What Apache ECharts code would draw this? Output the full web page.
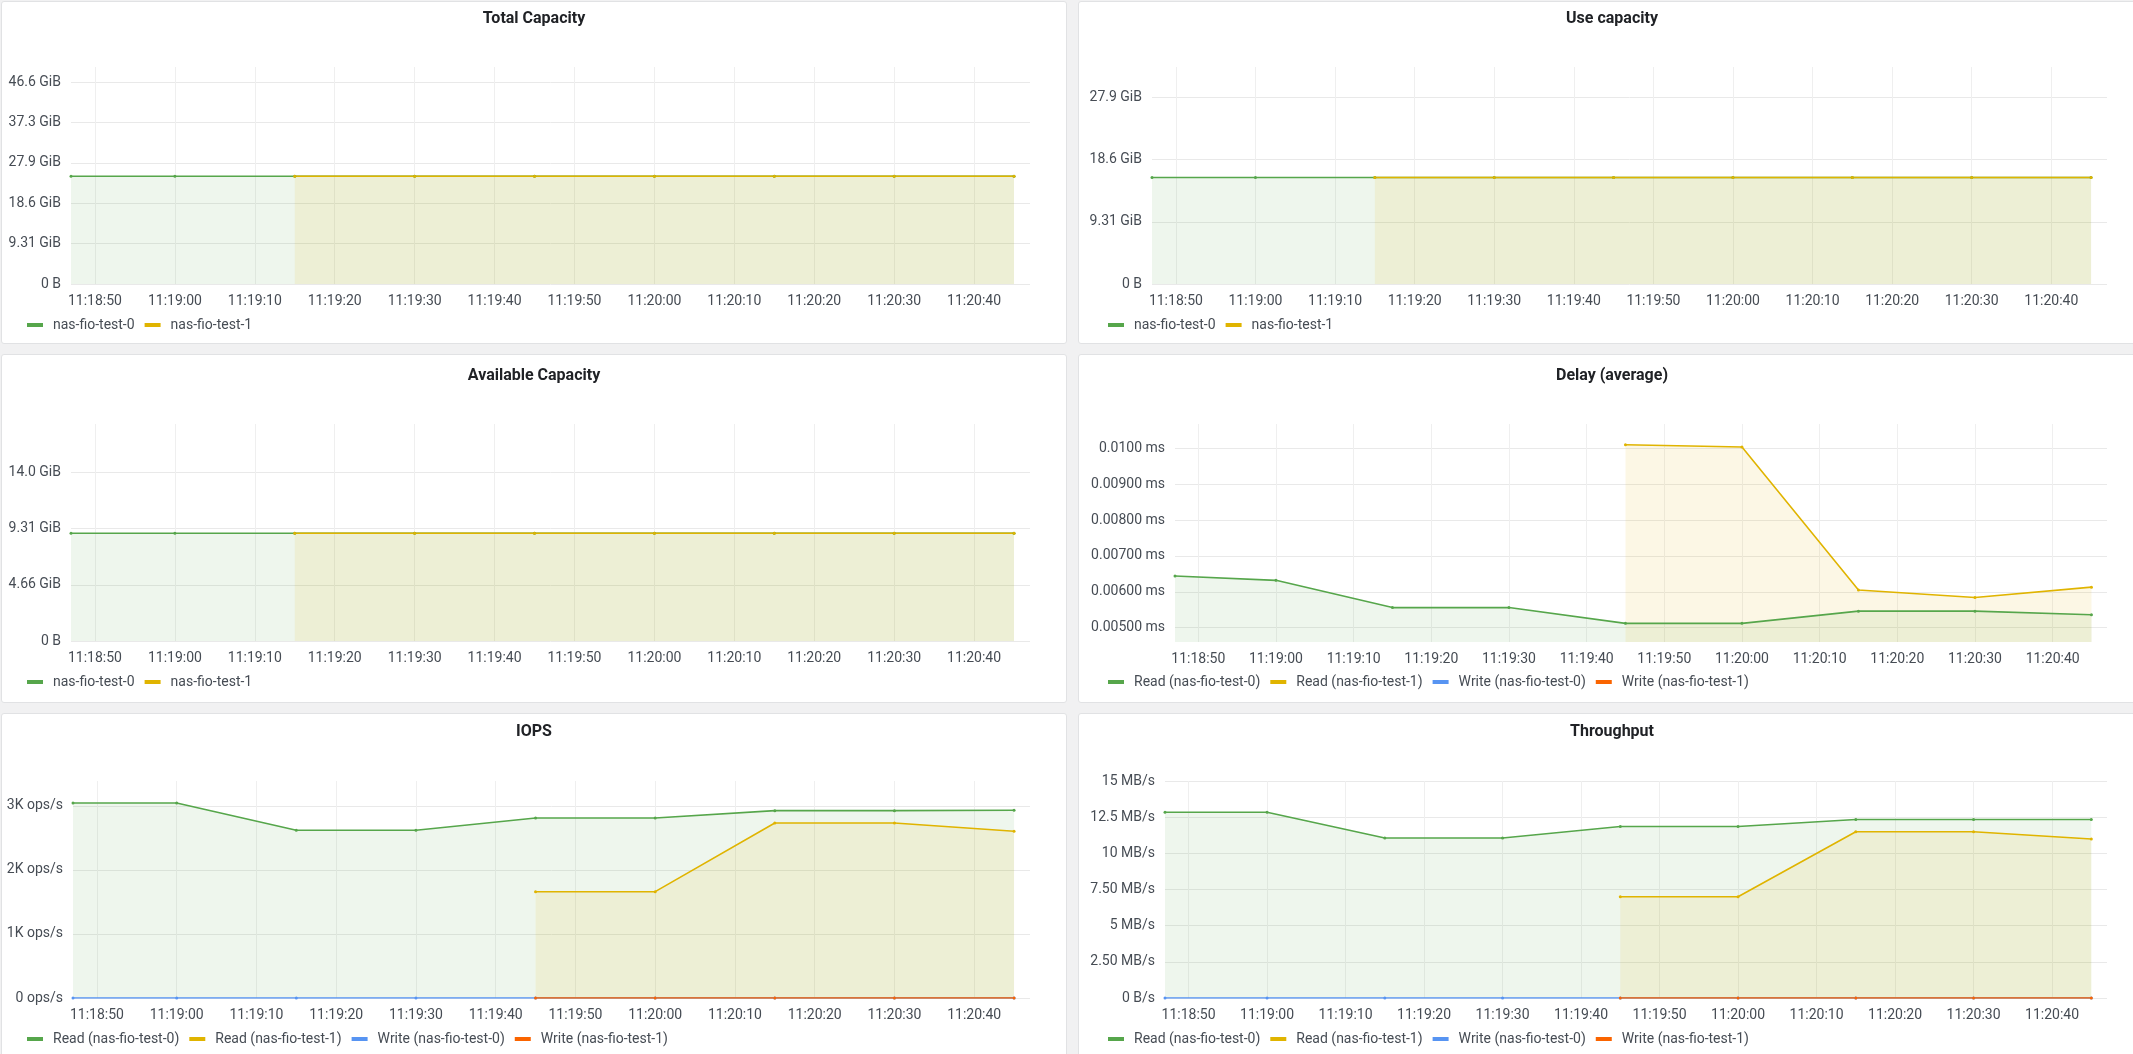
<!DOCTYPE html>
<html><head><meta charset="utf-8">
<script src="https://cdn.jsdelivr.net/npm/echarts@6/dist/echarts.min.js"></script>
<style>
html,body{margin:0;padding:0;width:2133px;height:1054px;overflow:hidden;background:#f1f1f2;}
.panel{position:absolute;background:#fff;border:1px solid #e1e2e4;border-radius:3px;box-sizing:border-box;}
#chart{position:absolute;left:0;top:0;width:2133px;height:1054px;}
</style></head><body>
<div class="panel" style="left:1px;top:1px;width:1066px;height:343px"></div>
<div class="panel" style="left:1078px;top:1px;width:1066px;height:343px"></div>
<div class="panel" style="left:1px;top:354px;width:1066px;height:349px"></div>
<div class="panel" style="left:1078px;top:354px;width:1066px;height:349px"></div>
<div class="panel" style="left:1px;top:713px;width:1066px;height:360px"></div>
<div class="panel" style="left:1078px;top:713px;width:1066px;height:360px"></div>
<div id="chart"></div>
<script>
// ---------- data ----------
const times = ['11:18:47','11:19:00','11:19:15','11:19:30','11:19:45','11:20:00','11:20:15','11:20:30','11:20:45'];
const xRange = ['11:18:47','11:20:47'];

const totalCap0 = [24.87,24.87,24.87,24.87,24.87,24.87,24.87,24.87,24.87];
const totalCap1 = [null,null,24.87,24.87,24.87,24.87,24.87,24.87,24.87];
const useCap0   = [15.93,15.93,15.93,15.93,15.93,15.93,15.93,15.93,15.93];
const useCap1   = [null,null,15.93,15.93,15.93,15.93,15.93,15.93,15.93];
const availCap0 = [8.94,8.94,8.94,8.94,8.94,8.94,8.94,8.94,8.94];
const availCap1 = [null,null,8.94,8.94,8.94,8.94,8.94,8.94,8.94];

const delayRead0  = [0.00644,0.00632,0.00556,0.00556,0.00512,0.00512,0.00546,0.00546,0.00536];
const delayRead1  = [null,null,null,null,0.01010,0.01004,0.00605,0.00584,0.00613];
const delayWrite0 = [];
const delayWrite1 = [];

const iopsRead0  = [3047,3047,2620,2620,2813,2813,2927,2927,2932];
const iopsRead1  = [null,null,null,null,1661,1661,2734,2734,2604];
const iopsWrite0 = [0,0,0,0,0,0,0,0,0];
const iopsWrite1 = [null,null,null,null,0,0,0,0,0];

const tputRead0  = [12.84,12.84,11.06,11.06,11.86,11.86,12.34,12.34,12.34];
const tputRead1  = [null,null,null,null,7.00,7.00,11.49,11.49,10.99];
const tputWrite0 = [0,0,0,0,0,0,0,0,0];
const tputWrite1 = [null,null,null,null,0,0,0,0,0];

const totalTicks = ['0 B','9.31 GiB','18.6 GiB','27.9 GiB','37.3 GiB','46.6 GiB'];
const useTicks   = ['0 B','9.31 GiB','18.6 GiB','27.9 GiB'];
const availTicks = ['0 B','4.66 GiB','9.31 GiB','14.0 GiB'];
const delayTicks = ['0.00500 ms','0.00600 ms','0.00700 ms','0.00800 ms','0.00900 ms','0.0100 ms'];
const iopsTicks  = ['0 ops/s','1K ops/s','2K ops/s','3K ops/s'];
const tputTicks  = ['0 B/s','2.50 MB/s','5 MB/s','7.50 MB/s','10 MB/s','12.5 MB/s','15 MB/s'];

const titles = ['Total Capacity','Use capacity','Available Capacity','Delay (average)','IOPS','Throughput'];
const nodeNames = ['nas-fio-test-0','nas-fio-test-1'];
const ioNames = ['Read (nas-fio-test-0)','Read (nas-fio-test-1)','Write (nas-fio-test-0)','Write (nas-fio-test-1)'];

// ---------- helpers ----------
const sec = t => { const p = t.split(':').map(Number); return p[0]*3600 + p[1]*60 + p[2]; };
const pad = n => (n < 10 ? '0' : '') + n;
const fmtTime = v => { v = Math.round(v); return pad(Math.floor(v/3600)) + ':' + pad(Math.floor(v/60)%60) + ':' + pad(v%60); };
const GIB10 = 1e10 / 1073741824;
const COLORS = ['#56A64B','#E0B400','#5794F2','#FA6400'];
const TXT = '#464c54';
const FONT = 'Roboto';
const GRIDH = '#e9e9e9';
const GRIDV = '#efefef';

const grids = [
  {left:71,   top:67,  width:959, height:217},
  {left:1152, top:67,  width:955, height:217},
  {left:71,   top:424, width:959, height:217},
  {left:1175, top:424, width:932, height:218},
  {left:73,   top:781, width:957, height:217},
  {left:1165, top:781, width:942, height:217}
];
const titlePos = [[534,19],[1612,19],[534,376],[1612,376],[534,732],[1612,732]];
const legendPos = [[27,317],[1108,317],[27,674],[1108,674],[27,1031],[1108,1031]];

const yCfg = [
  {min:0, max:50.1, iv:GIB10, base:0, ticks:totalTicks, minL:true, maxL:false},
  {min:0, max:32.47, iv:GIB10, base:0, ticks:useTicks, minL:true, maxL:false},
  {min:0, max:18.0, iv:GIB10/2, base:0, ticks:availTicks, minL:true, maxL:false},
  {min:0.0046, max:0.01068, iv:0.001, base:0.005, ticks:delayTicks, minL:false, maxL:false},
  {min:0, max:3390, iv:1000, base:0, ticks:iopsTicks, minL:true, maxL:false},
  {min:0, max:15, iv:2.5, base:0, ticks:tputTicks, minL:true, maxL:true}
];

const panelSeries = [
  [[nodeNames[0], totalCap0],[nodeNames[1], totalCap1]],
  [[nodeNames[0], useCap0],[nodeNames[1], useCap1]],
  [[nodeNames[0], availCap0],[nodeNames[1], availCap1]],
  [[ioNames[0], delayRead0],[ioNames[1], delayRead1],[ioNames[2], delayWrite0],[ioNames[3], delayWrite1]],
  [[ioNames[0], iopsRead0],[ioNames[1], iopsRead1],[ioNames[2], iopsWrite0],[ioNames[3], iopsWrite1]],
  [[ioNames[0], tputRead0],[ioNames[1], tputRead1],[ioNames[2], tputWrite0],[ioNames[3], tputWrite1]]
];

const labelStyle = {color:TXT, fontSize:14, fontFamily:FONT};

const option = {
  animation:false,
  grid: grids.map(g => Object.assign({containLabel:false, outerBoundsMode:'none'}, g)),
  xAxis: grids.map((g,i) => ({
    type:'value', gridIndex:i, min:sec(xRange[0]), max:sec(xRange[1]),
    minInterval:10, maxInterval:10,
    axisLine:{show:false}, axisTick:{show:false},
    axisLabel:Object.assign({margin:10, showMinLabel:false, showMaxLabel:false, formatter:fmtTime}, labelStyle),
    splitLine:{show:true, showMinLine:false, showMaxLine:false, lineStyle:{color:GRIDV, width:1}}
  })),
  yAxis: yCfg.map((c,i) => ({
    type:'value', gridIndex:i, min:c.min, max:c.max, minInterval:c.iv, maxInterval:c.iv,
    axisLine:{show:false}, axisTick:{show:false},
    axisLabel:Object.assign({margin:10, showMinLabel:c.minL, showMaxLabel:c.maxL,
      formatter: v => { const k = Math.round((v - c.base)/c.iv); return c.ticks[k] !== undefined ? c.ticks[k] : ''; }}, labelStyle),
    splitLine:{show:true, showMinLine:c.minL, showMaxLine:c.maxL, lineStyle:{color:GRIDH, width:1}}
  })),
  legend: panelSeries.map((ps,i) => ({
    left:legendPos[i][0], top:legendPos[i][1], padding:0, orient:'horizontal',
    icon:'rect', itemWidth:16, itemHeight:4, itemGap:10, selectedMode:false,
    textStyle:{color:TXT, fontSize:14, fontFamily:FONT, lineHeight:16, padding:[0,0,0,5]},
    data: ps.map(s => s[0])
  })),
  graphic: titles.map((t,i) => ({
    type:'text', x:titlePos[i][0], y:titlePos[i][1], silent:true,
    style:{text:t, align:'center', verticalAlign:'middle', textAlign:'center', textVerticalAlign:'middle',
      fontSize:16, fontWeight:'bold', fontFamily:FONT, fill:'#202226'}
  })),
  series: []
};

panelSeries.forEach((ps, pi) => {
  ps.forEach((s, si) => {
    const color = COLORS[si];
    option.series.push({
      type:'line', name:s[0], xAxisIndex:pi, yAxisIndex:pi,
      data: times.map((t,k) => (s[1][k] === null || s[1][k] === undefined) ? null : [sec(t), s[1][k]]).filter(Boolean),
      symbol:'circle', symbolSize:3, showSymbol:true, clip:true, silent:true,
      lineStyle:{width:1.6, color:color}, itemStyle:{color:color},
      areaStyle:{color:color, opacity:0.1},
      emphasis:{disabled:true}
    });
  });
});

const chart = echarts.init(document.getElementById('chart'), null, {renderer:'canvas'});
chart.setOption(option);
</script>
</body></html>
